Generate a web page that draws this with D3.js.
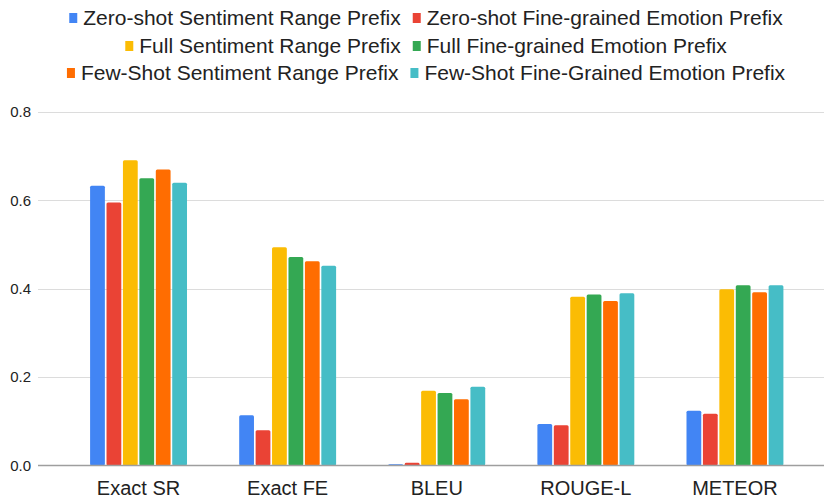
<!DOCTYPE html>
<html>
<head>
<meta charset="utf-8">
<script src="https://cdn.jsdelivr.net/npm/d3@7"></script>
<style>
  body { margin: 0; background: #fff; }
  text { font-family: "Liberation Sans", Arial, sans-serif; }
</style>
</head>
<body>
<script>
// chart data
var categories = ["Exact SR", "Exact FE", "BLEU", "ROUGE-L", "METEOR"];
var seriesNames = [
  "Zero-shot Sentiment Range Prefix",
  "Zero-shot Fine-grained Emotion Prefix",
  "Full Sentiment Range Prefix",
  "Full Fine-grained Emotion Prefix",
  "Few-Shot Sentiment Range Prefix",
  "Few-Shot Fine-Grained Emotion Prefix"
];
var zeroSR = [0.633, 0.114, 0.003, 0.094, 0.124];
var zeroFE = [0.595, 0.080, 0.006, 0.091, 0.117];
var fullSR = [0.691, 0.494, 0.169, 0.382, 0.399];
var fullFE = [0.650, 0.472, 0.164, 0.387, 0.408];
var fewSR  = [0.670, 0.462, 0.150, 0.372, 0.392];
var fewFE  = [0.640, 0.452, 0.178, 0.390, 0.408];
var yTicks = [0, 0.2, 0.4, 0.6, 0.8];

var series = [zeroSR, zeroFE, fullSR, fullFE, fewSR, fewFE];
var colors = ["#4285F4", "#EA4335", "#FBBC04", "#34A853", "#FF6D01", "#46BDC6"];

var width = 825;
var height = 500;

var svg = d3.select("body")
            .append("svg")
            .attr("width", width)
            .attr("height", height);

var x0 = d3.scaleBand()
           .domain(categories)
           .range([64, 809.5])
           .paddingInner(0.35)
           .paddingOuter(0.175);

var x1 = d3.scaleBand()
           .domain(d3.range(series.length))
           .range([0, x0.bandwidth()])
           .paddingInner(0.1);

var y = d3.scaleLinear()
          .domain([0, 0.8])
          .range([465.5, 112]);

// gridlines + y labels
var grid = svg.append("g");
grid.selectAll("line")
    .data(yTicks.slice(1))
    .enter().append("line")
      .attr("x1", 38)
      .attr("x2", 824)
      .attr("y1", d => Math.round(y(d)) + 0.5)
      .attr("y2", d => Math.round(y(d)) + 0.5)
      .attr("stroke", "#dcdcdc")
      .attr("stroke-width", 1);

grid.selectAll("text")
    .data(yTicks)
    .enter().append("text")
      .attr("x", 31)
      .attr("y", d => y(d))
      .attr("dy", "0.35em")
      .attr("text-anchor", "end")
      .attr("font-size", 15)
      .attr("fill", "#222")
      .text(d => d3.format(".1f")(d));

// bars
var groups = svg.append("g")
  .selectAll("g")
  .data(categories)
  .enter().append("g")
    .attr("transform", d => `translate(${x0(d)},0)`);

groups.selectAll("rect")
  .data((c, ci) => series.map((s, si) => ({ si: si, v: s[ci] })))
  .enter().append("rect")
    .attr("x", d => x1(d.si))
    .attr("y", d => y(d.v))
    .attr("width", x1.bandwidth())
    .attr("height", d => y(0) - y(d.v))
    .attr("rx", 1.5)
    .attr("fill", d => colors[d.si]);

// baseline
svg.append("line")
   .attr("x1", 38)
   .attr("x2", 824)
   .attr("y1", y(0))
   .attr("y2", y(0))
   .attr("stroke", "#9e9e9e")
   .attr("stroke-width", 1.5);

// x labels
svg.append("g")
  .selectAll("text")
  .data(categories)
  .enter().append("text")
    .attr("x", d => x0(d) + x0.bandwidth() / 2)
    .attr("y", 495)
    .attr("text-anchor", "middle")
    .attr("font-size", 20)
    .attr("fill", "#222")
    .text(d => d);

// legend: three centered rows of two items
var legendRows = [[0, 1], [2, 3], [4, 5]];
var rowY = [18, 46, 73];
var legend = svg.append("g");
legendRows.forEach(function(row, ri) {
  var rowG = legend.append("g");
  var cursor = 0;
  row.forEach(function(si, k) {
    var item = rowG.append("g").attr("transform", `translate(${cursor},0)`);
    item.append("rect")
        .attr("x", 0)
        .attr("y", rowY[ri] - 5)
        .attr("width", 8)
        .attr("height", 10)
        .attr("fill", colors[si]);
    var t = item.append("text")
        .attr("x", 14)
        .attr("y", rowY[ri])
        .attr("dy", "0.35em")
        .attr("font-size", 21)
        .attr("fill", "#222")
        .text(seriesNames[si]);
    cursor += 14 + t.node().getComputedTextLength() + (k === 0 ? 12 : 0);
  });
  rowG.attr("transform", `translate(${426 - cursor / 2},0)`);
});
</script>
</body>
</html>
